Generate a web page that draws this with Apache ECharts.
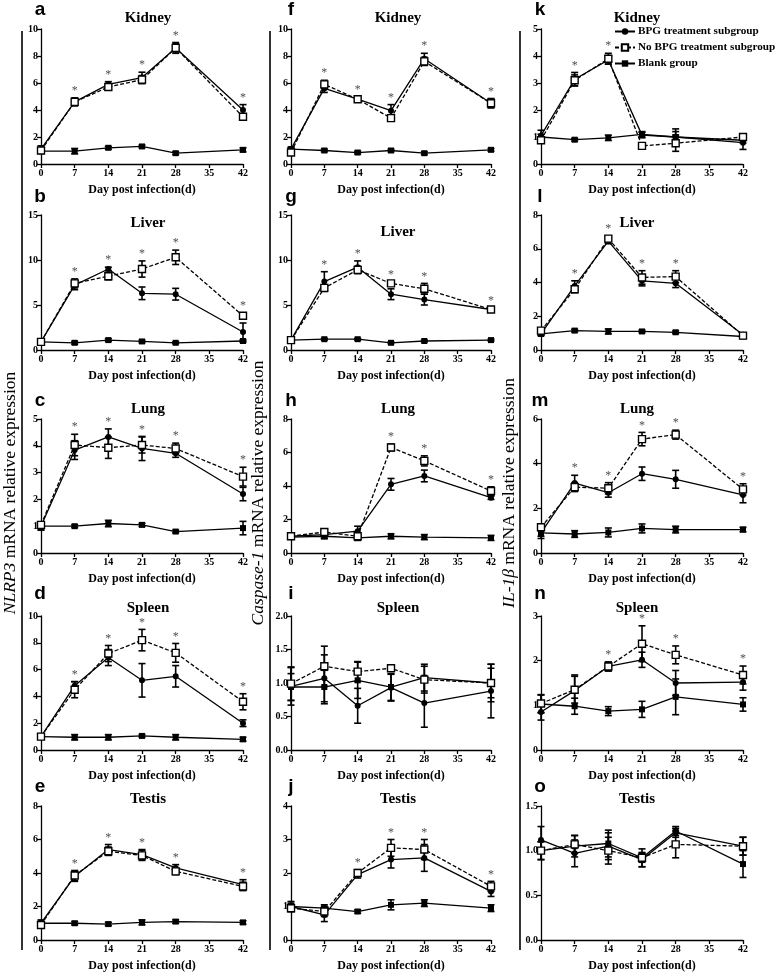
<!DOCTYPE html>
<html><head><meta charset="utf-8">
<script src="https://cdn.jsdelivr.net/npm/echarts@6/dist/echarts.min.js"></script>
<style>html,body{margin:0;padding:0;background:#fff}#c{width:778px;height:979px}</style>
</head><body><div id="c"></div><script>
const days = [0, 7, 14, 21, 28, 42];
const groupNames = ['BPG treatment subgroup', 'No BPG treatment subgroup', 'Blank group'];
const organs = ['Kidney', 'Liver', 'Lung', 'Spleen', 'Testis'];
const genes = ['NLRP3', 'Caspase-1', 'IL-1β'];

// ---- NLRP3 (a-e) ----
const a_bpg = [1.1, 4.6, 5.9, 6.4, 8.6, 4.0],   a_bpgErr = [0.25, 0.25, 0.2, 0.4, 0.3, 0.4];
const a_no = [1.0, 4.6, 5.7, 6.25, 8.6, 3.5],   a_noErr = [0.2, 0.3, 0.2, 0.3, 0.4, 0.2];
const a_blank = [0.95, 0.95, 1.2, 1.3, 0.8, 1.05], a_blankErr = [0.15, 0.2, 0.1, 0.1, 0.1, 0.15];
const a_sig = [7, 14, 21, 28, 42];

const b_bpg = [0.9, 7.2, 9.0, 6.3, 6.2, 2.0],   b_bpgErr = [0.15, 0.5, 0.2, 0.7, 0.65, 1.0];
const b_no = [0.9, 7.4, 8.2, 9.0, 10.3, 3.8],   b_noErr = [0.15, 0.5, 0.4, 0.9, 0.8, 0.3];
const b_blank = [0.9, 0.8, 1.1, 0.95, 0.8, 1.0], b_blankErr = [0.15, 0.15, 0.15, 0.15, 0.1, 0.15];
const b_sig = [7, 14, 21, 28, 42];

const c_bpg = [1.0, 3.84, 4.33, 3.9, 3.72, 2.2], c_bpgErr = [0.15, 0.35, 0.3, 0.45, 0.15, 0.25];
const c_no = [1.05, 4.03, 3.93, 4.03, 3.9, 2.85], c_noErr = [0.1, 0.4, 0.4, 0.3, 0.2, 0.35];
const c_blank = [1.0, 1.0, 1.1, 1.05, 0.8, 0.93], c_blankErr = [0.12, 0.05, 0.12, 0.06, 0.05, 0.25];
const c_sig = [7, 14, 21, 28, 42];

const d_bpg = [1.0, 4.8, 6.9, 5.2, 5.5, 2.0],   d_bpgErr = [0.15, 0.3, 0.6, 1.25, 0.8, 0.25];
const d_no = [1.0, 4.5, 7.2, 8.2, 7.25, 3.6],   d_noErr = [0.15, 0.6, 0.6, 0.8, 0.7, 0.6];
const d_blank = [1.0, 0.95, 0.95, 1.05, 0.95, 0.8], d_blankErr = [0.1, 0.2, 0.2, 0.1, 0.2, 0.15];
const d_sig = [7, 14, 21, 28, 42];

const e_bpg = [1.0, 3.8, 5.4, 5.1, 4.3, 3.3],   e_bpgErr = [0.2, 0.3, 0.3, 0.3, 0.2, 0.3];
const e_no = [0.9, 3.85, 5.3, 5.05, 4.1, 3.2],  e_noErr = [0.15, 0.3, 0.25, 0.3, 0.2, 0.25];
const e_blank = [1.0, 1.0, 0.95, 1.05, 1.1, 1.05], e_blankErr = [0.1, 0.1, 0.1, 0.15, 0.1, 0.1];
const e_sig = [7, 14, 21, 28, 42];

// ---- Caspase-1 (f-j) ----
const f_bpg = [1.1, 5.6, 4.8, 3.95, 7.8, 4.5],  f_bpgErr = [0.15, 0.3, 0.15, 0.45, 0.4, 0.35];
const f_no = [0.85, 5.9, 4.8, 3.4, 7.6, 4.5],   f_noErr = [0.15, 0.3, 0.15, 0.2, 0.3, 0.3];
const f_blank = [1.1, 1.0, 0.85, 1.0, 0.8, 1.05], f_blankErr = [0.1, 0.1, 0.1, 0.1, 0.1, 0.1];
const f_sig = [7, 14, 21, 28, 42];

const g_bpg = [1.1, 7.6, 9.2, 6.2, 5.6, 4.5],   g_bpgErr = [0.15, 1.1, 0.7, 0.6, 0.6, 0.2];
const g_no = [1.1, 6.9, 8.9, 7.4, 6.8, 4.5],    g_noErr = [0.15, 0.3, 0.4, 0.2, 0.6, 0.2];
const g_blank = [1.1, 1.2, 1.2, 0.8, 1.0, 1.1], g_blankErr = [0.1, 0.1, 0.1, 0.1, 0.1, 0.1];
const g_sig = [7, 14, 21, 28, 42];

const h_bpg = [1.0, 1.1, 1.3, 4.1, 4.6, 3.3],   h_bpgErr = [0.1, 0.2, 0.3, 0.35, 0.35, 0.1];
const h_no = [1.0, 1.25, 1.0, 6.3, 5.5, 3.7],   h_noErr = [0.1, 0.15, 0.2, 0.2, 0.3, 0.25];
const h_blank = [0.95, 1.0, 0.9, 1.0, 0.95, 0.9], h_blankErr = [0.1, 0.15, 0.15, 0.15, 0.15, 0.15];
const h_sig = [21, 28, 42];

const i_bpg = [0.95, 1.07, 0.66, 0.93, 0.7, 0.88], i_bpgErr = [0.28, 0.35, 0.26, 0.2, 0.36, 0.4];
const i_no = [0.99, 1.25, 1.17, 1.22, 1.05, 1.0],  i_noErr = [0.25, 0.3, 0.15, 0.03, 0.2, 0.28];
const i_blank = [0.94, 0.94, 1.04, 0.94, 1.08, 1.0], i_blankErr = [0.2, 0.25, 0.27, 0.2, 0.2, 0.22];
const i_sig = [];

const j_bpg = [1.0, 0.75, 1.95, 2.4, 2.45, 1.45], j_bpgErr = [0.15, 0.2, 0.1, 0.25, 0.4, 0.15];
const j_no = [0.95, 0.85, 2.0, 2.75, 2.7, 1.6],   j_noErr = [0.1, 0.15, 0.1, 0.25, 0.3, 0.15];
const j_blank = [1.0, 0.95, 0.85, 1.05, 1.1, 0.95], j_blankErr = [0.1, 0.1, 0.05, 0.15, 0.1, 0.1];
const j_sig = [14, 21, 28, 42];

// ---- IL-1β (k-o) ----
const k_bpg = [1.05, 3.14, 3.85, 1.07, 1.0, 0.79], k_bpgErr = [0.2, 0.25, 0.15, 0.1, 0.3, 0.25];
const k_no = [0.88, 3.1, 3.9, 0.67, 0.77, 1.0],   k_noErr = [0.1, 0.2, 0.2, 0.1, 0.3, 0.1];
const k_blank = [1.0, 0.9, 0.97, 1.1, 1.0, 0.88], k_blankErr = [0.1, 0.05, 0.1, 0.1, 0.2, 0.1];
const k_sig = [7, 14];

const l_bpg = [0.95, 3.8, 6.45, 4.1, 3.95, 0.9], l_bpgErr = [0.1, 0.3, 0.15, 0.3, 0.25, 0.1];
const l_no = [1.15, 3.6, 6.6, 4.3, 4.35, 0.85],  l_noErr = [0.1, 0.2, 0.15, 0.4, 0.35, 0.1];
const l_blank = [0.95, 1.15, 1.1, 1.1, 1.05, 0.8], l_blankErr = [0.08, 0.08, 0.15, 0.08, 0.08, 0.1];
const l_sig = [7, 14, 21, 28];

const m_bpg = [0.9, 3.13, 2.7, 3.55, 3.3, 2.6],  m_bpgErr = [0.25, 0.35, 0.2, 0.3, 0.4, 0.35];
const m_no = [1.15, 2.95, 2.9, 5.1, 5.3, 2.85],  m_noErr = [0.15, 0.2, 0.25, 0.3, 0.2, 0.25];
const m_blank = [0.9, 0.85, 0.92, 1.1, 1.05, 1.05], m_blankErr = [0.15, 0.15, 0.2, 0.2, 0.15, 0.1];
const m_sig = [7, 14, 21, 28, 42];

const n_bpg = [0.85, 1.33, 1.87, 2.02, 1.5, 1.52], n_bpgErr = [0.18, 0.35, 0.1, 0.17, 0.28, 0.18];
const n_no = [1.04, 1.35, 1.87, 2.38, 2.13, 1.68], n_noErr = [0.2, 0.3, 0.1, 0.4, 0.2, 0.2];
const n_blank = [1.03, 0.98, 0.87, 0.91, 1.19, 1.02], n_blankErr = [0.2, 0.18, 0.1, 0.18, 0.4, 0.15];
const n_sig = [14, 21, 28, 42];

const o_bpg = [1.12, 0.97, 1.05, 0.9, 1.2, 1.05], o_bpgErr = [0.15, 0.15, 0.15, 0.08, 0.05, 0.1];
const o_no = [1.0, 1.07, 1.0, 0.92, 1.07, 1.05],  o_noErr = [0.1, 0.1, 0.15, 0.05, 0.15, 0.1];
const o_blank = [1.0, 1.05, 1.08, 0.92, 1.22, 0.85], o_blankErr = [0.1, 0.12, 0.15, 0.1, 0.05, 0.15];
const o_sig = [];

const panelData = {
  a: [a_bpg, a_bpgErr, a_no, a_noErr, a_blank, a_blankErr, a_sig],
  b: [b_bpg, b_bpgErr, b_no, b_noErr, b_blank, b_blankErr, b_sig],
  c: [c_bpg, c_bpgErr, c_no, c_noErr, c_blank, c_blankErr, c_sig],
  d: [d_bpg, d_bpgErr, d_no, d_noErr, d_blank, d_blankErr, d_sig],
  e: [e_bpg, e_bpgErr, e_no, e_noErr, e_blank, e_blankErr, e_sig],
  f: [f_bpg, f_bpgErr, f_no, f_noErr, f_blank, f_blankErr, f_sig],
  g: [g_bpg, g_bpgErr, g_no, g_noErr, g_blank, g_blankErr, g_sig],
  h: [h_bpg, h_bpgErr, h_no, h_noErr, h_blank, h_blankErr, h_sig],
  i: [i_bpg, i_bpgErr, i_no, i_noErr, i_blank, i_blankErr, i_sig],
  j: [j_bpg, j_bpgErr, j_no, j_noErr, j_blank, j_blankErr, j_sig],
  k: [k_bpg, k_bpgErr, k_no, k_noErr, k_blank, k_blankErr, k_sig],
  l: [l_bpg, l_bpgErr, l_no, l_noErr, l_blank, l_blankErr, l_sig],
  m: [m_bpg, m_bpgErr, m_no, m_noErr, m_blank, m_blankErr, m_sig],
  n: [n_bpg, n_bpgErr, n_no, n_noErr, n_blank, n_blankErr, n_sig],
  o: [o_bpg, o_bpgErr, o_no, o_noErr, o_blank, o_blankErr, o_sig]
};

// y-axis ranges per panel [max, interval]
const yRange = {
  a: [10, 2], b: [15, 5], c: [5, 1], d: [10, 2], e: [8, 2],
  f: [10, 2], g: [15, 5], h: [8, 2], i: [2, 0.5], j: [4, 1],
  k: [5, 1], l: [8, 2], m: [6, 2], n: [3, 1], o: [1.5, 0.5]
};
const panelIds = [['a','b','c','d','e'], ['f','g','h','i','j'], ['k','l','m','n','o']];

// layout
const colLeft = [41, 291, 541], colWidth = [202, 200, 202];
const rowTop = [29, 215, 419, 616, 806], rowHeight = [135, 135, 134, 134, 134];
const titleX = [148, 398, 637];
const titleY = [[18, 223, 409, 608, 799], [18, 232, 409, 608, 799], [18, 223, 409, 608, 799]];
const letterX = [40, 291, 540];
const letterY = [10, 197, 401, 594, 787];
const F = '"Liberation Serif","Times New Roman",serif';

const grids = [], xAxes = [], yAxes = [], series = [], graphics = [];

function errRender(params, api) {
  const x = api.value(0), lo = api.value(1), hi = api.value(2);
  const p1 = api.coord([x, lo]), p2 = api.coord([x, hi]);
  const w = 3.5;
  const st = { stroke: '#000', lineWidth: 1.6 };
  return { type: 'group', children: [
    { type: 'line', shape: { x1: p1[0], y1: p1[1], x2: p2[0], y2: p2[1] }, style: st },
    { type: 'line', shape: { x1: p1[0] - w, y1: p1[1], x2: p1[0] + w, y2: p1[1] }, style: st },
    { type: 'line', shape: { x1: p2[0] - w, y1: p2[1], x2: p2[0] + w, y2: p2[1] }, style: st }
  ]};
}

const styles = [
  { symbol: 'circle', symbolSize: 6, itemStyle: { color: '#000' }, lineStyle: { color: '#000', width: 1.3, type: 'solid' } },
  { symbol: 'rect', symbolSize: 7, itemStyle: { color: '#fff', borderColor: '#000', borderWidth: 1.4 }, lineStyle: { color: '#000', width: 1.3, type: [4, 2] } },
  { symbol: 'rect', symbolSize: 6, itemStyle: { color: '#000' }, lineStyle: { color: '#000', width: 1.3, type: 'solid' } }
];

let k = 0;
panelIds.forEach((colIds, col) => {
  colIds.forEach((id, row) => {
    const [ymax, yint] = yRange[id];
    const dec = yint < 1 ? 1 : 0;
    grids.push({ left: colLeft[col], top: rowTop[row], width: colWidth[col], height: rowHeight[row] });
    xAxes.push({
      gridIndex: k, type: 'value', min: 0, max: 42, interval: 7,
      axisLine: { lineStyle: { color: '#000', width: 1.3 } },
      axisTick: { length: 4, lineStyle: { color: '#000', width: 1.3 } },
      axisLabel: { color: '#000', fontSize: 10, fontWeight: 'bold', fontFamily: F, margin: 4 },
      splitLine: { show: false },
      name: 'Day post infection(d)', nameLocation: 'middle', nameGap: 20,
      nameTextStyle: { color: '#000', fontSize: 12, fontWeight: 'bold', fontFamily: F }
    });
    yAxes.push({
      gridIndex: k, type: 'value', min: 0, max: ymax, interval: yint,
      axisLine: { show: true, lineStyle: { color: '#000', width: 1.3 } },
      axisTick: { show: true, length: 4, lineStyle: { color: '#000', width: 1.3 } },
      axisLabel: { color: '#000', fontSize: 10, fontWeight: 'bold', fontFamily: F, margin: 3,
        formatter: v => v.toFixed(dec) },
      splitLine: { show: false }
    });
    const pd = panelData[id];
    const means = [pd[0], pd[2], pd[4]], errs = [pd[1], pd[3], pd[5]];
    for (let s = 0; s < 3; s++) {
      series.push(Object.assign({
        name: groupNames[s], type: 'line', xAxisIndex: k, yAxisIndex: k,
        data: days.map((d, i) => [d, means[s][i]]), z: 4 + (s === 1 ? 1 : 0),
        animation: false
      }, styles[s]));
      series.push({
        name: 'err' + s, type: 'custom', xAxisIndex: k, yAxisIndex: k,
        renderItem: errRender, encode: { x: 0, y: [1, 2] }, z: 3, animation: false,
        data: days.map((d, i) => [d, means[s][i] - errs[s][i], means[s][i] + errs[s][i]])
      });
    }
    const sig = pd[6];
    series.push({
      name: 'sig', type: 'scatter', xAxisIndex: k, yAxisIndex: k, symbolSize: 0, animation: false,
      data: sig.map(d => { const i = days.indexOf(d); return [d, Math.max(...[0,1,2].map(s => means[s][i] + errs[s][i]))]; }),
      label: { show: true, position: 'top', distance: 1, formatter: '*', color: '#222', fontSize: 12, fontFamily: F }
    });
    graphics.push({ type: 'text', x: titleX[col], y: titleY[col][row],
      style: { text: organs[row], align: 'center', verticalAlign: 'middle', fill: '#000', font: 'bold 15px ' + F } });
    graphics.push({ type: 'text', x: letterX[col], y: letterY[row],
      style: { text: id, align: 'center', verticalAlign: 'middle', fill: '#000', font: 'bold 19px "Liberation Sans",Arial,sans-serif' } });
    k++;
  });
});

// left brackets and rotated gene axis titles
const barX = [22, 270, 520];
const geneX = [10, 258, 509];
genes.forEach((g, c) => {
  graphics.push({ type: 'line', shape: { x1: barX[c], y1: 31, x2: barX[c], y2: 950 }, style: { stroke: '#000', lineWidth: 1.6 } });
  graphics.push({ type: 'text', x: geneX[c], y: 493, rotation: Math.PI / 2,
    style: { text: '{i|' + g + '}{n| mRNA relative expression}', align: 'center', verticalAlign: 'middle',
      rich: { i: { fontStyle: 'italic', fontSize: 17.5, fontFamily: F, fill: '#000' },
              n: { fontSize: 17.5, fontFamily: F, fill: '#000' } } } });
});

const chart = echarts.init(document.getElementById('c'));
chart.setOption({
  animation: false,
  backgroundColor: '#fff',
  grid: grids, xAxis: xAxes, yAxis: yAxes, series: series,
  legend: {
    data: groupNames, orient: 'vertical', left: 614, top: 26, itemWidth: 20, itemHeight: 8, itemGap: 5,
    padding: 0, selectedMode: false,
    textStyle: { color: '#000', fontSize: 11.2, fontWeight: 'bold', fontFamily: F, padding: [0, 0, 0, -2] }
  },
  graphic: graphics
});
</script></body></html>
